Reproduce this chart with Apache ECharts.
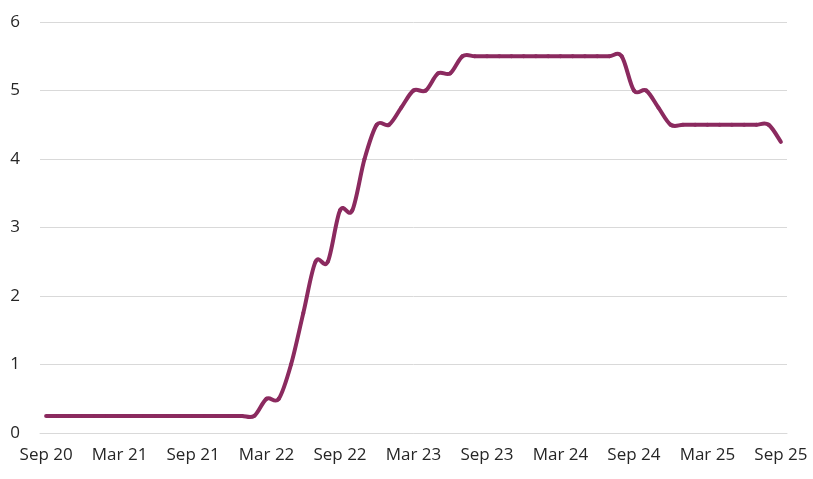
<!DOCTYPE html>
<html>
<head>
<meta charset="utf-8">
<script src="https://cdn.jsdelivr.net/npm/echarts@6/dist/echarts.min.js"></script>
<style>
  html, body { margin: 0; padding: 0; background: #fff; }
  #chart { width: 813px; height: 479px; }
</style>
</head>
<body>
<div id="chart"></div>
<script>
// monthly categories, Sep 2020 to Sep 2025
const months = [
  'Sep 20', 'Oct 20', 'Nov 20', 'Dec 20',
  'Jan 21', 'Feb 21', 'Mar 21', 'Apr 21', 'May 21', 'Jun 21', 'Jul 21', 'Aug 21', 'Sep 21', 'Oct 21', 'Nov 21', 'Dec 21',
  'Jan 22', 'Feb 22', 'Mar 22', 'Apr 22', 'May 22', 'Jun 22', 'Jul 22', 'Aug 22', 'Sep 22', 'Oct 22', 'Nov 22', 'Dec 22',
  'Jan 23', 'Feb 23', 'Mar 23', 'Apr 23', 'May 23', 'Jun 23', 'Jul 23', 'Aug 23', 'Sep 23', 'Oct 23', 'Nov 23', 'Dec 23',
  'Jan 24', 'Feb 24', 'Mar 24', 'Apr 24', 'May 24', 'Jun 24', 'Jul 24', 'Aug 24', 'Sep 24', 'Oct 24', 'Nov 24', 'Dec 24',
  'Jan 25', 'Feb 25', 'Mar 25', 'Apr 25', 'May 25', 'Jun 25', 'Jul 25', 'Aug 25', 'Sep 25'
];

// policy rate, % (one value per month)
const rate = [
  0.25, 0.25, 0.25, 0.25,
  0.25, 0.25, 0.25, 0.25, 0.25, 0.25, 0.25, 0.25, 0.25, 0.25, 0.25, 0.25,
  0.25, 0.25, 0.5, 0.5, 1.0, 1.75, 2.5, 2.5, 3.25, 3.25, 4.0, 4.5,
  4.5, 4.75, 5.0, 5.0, 5.25, 5.25, 5.5, 5.5, 5.5, 5.5, 5.5, 5.5,
  5.5, 5.5, 5.5, 5.5, 5.5, 5.5, 5.5, 5.5, 5.0, 5.0, 4.75, 4.5,
  4.5, 4.5, 4.5, 4.5, 4.5, 4.5, 4.5, 4.5, 4.25
];

const yTicks = [0, 1, 2, 3, 4, 5, 6];

const lineColor = '#8b2a5f';

const chart = echarts.init(document.getElementById('chart'));

const labelFont = {
  fontFamily: 'Open Sans',
  fontSize: 17,
  color: '#262626'
};

// spreadsheet-style smoothed segment from point i to i+1 (catmull-rom, may overshoot)
function renderSegment(params, api) {
  const i = params.dataIndex;
  const n = rate.length;
  if (i >= n - 1) return null;
  const p = (k) => api.coord([Math.max(0, Math.min(n - 1, k)), rate[Math.max(0, Math.min(n - 1, k))]]);
  const p0 = p(i - 1), p1 = p(i), p2 = p(i + 1), p3 = p(i + 2);
  return {
    type: 'bezierCurve',
    shape: {
      x1: p1[0], y1: p1[1],
      x2: p2[0], y2: p2[1],
      cpx1: p1[0] + (p2[0] - p0[0]) / 6,
      cpy1: p1[1] + (p2[1] - p0[1]) / 6,
      cpx2: p2[0] - (p3[0] - p1[0]) / 6,
      cpy2: p2[1] - (p3[1] - p1[1]) / 6
    },
    style: {
      fill: null,
      stroke: lineColor,
      lineWidth: 4,
      lineCap: 'round'
    }
  };
}

chart.setOption({
  animation: false,
  grid: {
    left: 40,
    right: 26,
    top: 22,
    bottom: 46
  },
  xAxis: {
    type: 'category',
    data: months,
    boundaryGap: true,
    axisLine: { lineStyle: { color: '#d9d9d9', width: 1 } },
    axisTick: { interval: 5, length: 6, lineStyle: { color: '#d9d9d9' } },
    axisLabel: Object.assign({ interval: 5, margin: 14 }, labelFont),
    splitLine: { show: false }
  },
  yAxis: {
    type: 'value',
    min: yTicks[0],
    max: yTicks[yTicks.length - 1],
    interval: 1,
    axisLine: { show: false },
    axisTick: { show: false },
    axisLabel: Object.assign({ margin: 20 }, labelFont),
    splitLine: { lineStyle: { color: '#d9d9d9', width: 1 } }
  },
  series: [{
    type: 'custom',
    data: rate.map((v, i) => [i, v]),
    encode: { x: 0, y: 1 },
    renderItem: renderSegment
  }]
});
</script>
</body>
</html>
